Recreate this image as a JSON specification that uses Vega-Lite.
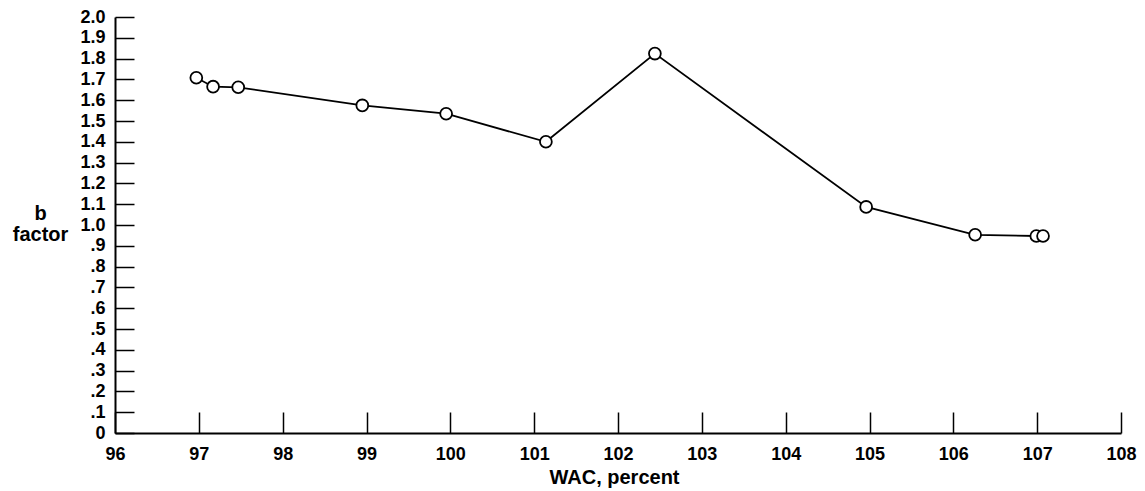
{
  "$schema": "https://vega.github.io/schema/vega-lite/v6.json",
  "autosize": "none",
  "padding": {"left": 115, "top": 17, "right": 24, "bottom": 58},
  "width": 1006,
  "height": 416,
  "background": "white",
  "config": {
    "view": {"stroke": null},
    "axis": {
      "grid": false,
      "domainColor": "black",
      "domainWidth": 2,
      "tickColor": "black",
      "tickWidth": 1.5,
      "labelFont": "Liberation Sans",
      "labelFontWeight": "bold",
      "labelFontSize": 18,
      "labelColor": "black",
      "titleFont": "Liberation Sans",
      "titleFontWeight": "bold",
      "titleFontSize": 20,
      "titleColor": "black"
    }
  },
  "data": {
    "values": [
      {"wac": 96.97, "b": 1.708},
      {"wac": 97.17, "b": 1.665},
      {"wac": 97.47, "b": 1.662},
      {"wac": 98.95, "b": 1.575},
      {"wac": 99.95, "b": 1.535},
      {"wac": 101.14, "b": 1.4},
      {"wac": 102.44, "b": 1.824},
      {"wac": 104.96, "b": 1.087},
      {"wac": 106.26, "b": 0.953},
      {"wac": 106.99, "b": 0.947},
      {"wac": 107.07, "b": 0.947}
    ]
  },
  "encoding": {
    "x": {
      "field": "wac",
      "type": "quantitative",
      "scale": {"domain": [96, 108], "nice": false, "zero": false},
      "axis": {
        "title": "WAC, percent",
        "values": [96, 97, 98, 99, 100, 101, 102, 103, 104, 105, 106, 107, 108],
        "format": "d",
        "tickSize": -21,
        "labelPadding": 33,
        "labelFlush": false,
        "labelOverlap": false,
        "titleX": 499,
        "titleY": 44,
        "titleBaseline": "middle",
        "titleAnchor": null,
        "titleAlign": "center"
      }
    },
    "y": {
      "field": "b",
      "type": "quantitative",
      "scale": {"domain": [0, 2], "nice": false},
      "axis": {
        "title": ["b", "factor"],
        "values": [0, 0.1, 0.2, 0.3, 0.4, 0.5, 0.6, 0.7, 0.8, 0.9, 1.0, 1.1, 1.2, 1.3, 1.4, 1.5, 1.6, 1.7, 1.8, 1.9, 2.0],
        "labelExpr": "datum.value < 0.05 ? '0' : datum.value >= 0.95 ? format(datum.value, '.1f') : '.' + format(datum.value * 10, '.0f')",
        "tickSize": -19,
        "labelPadding": 29,
        "labelFlush": false,
        "labelOverlap": false,
        "titleAngle": 0,
        "titleAlign": "center",
        "titleBaseline": "top",
        "titleX": -75,
        "titleY": 186,
        "titleLineHeight": 21,
        "titleAnchor": null
      }
    }
  },
  "layer": [
    {"mark": {"type": "line", "color": "black", "strokeWidth": 1.8}},
    {"mark": {"type": "point", "shape": "circle", "filled": true, "fill": "white", "stroke": "black", "strokeWidth": 1.8, "size": 140, "opacity": 1}}
  ]
}
